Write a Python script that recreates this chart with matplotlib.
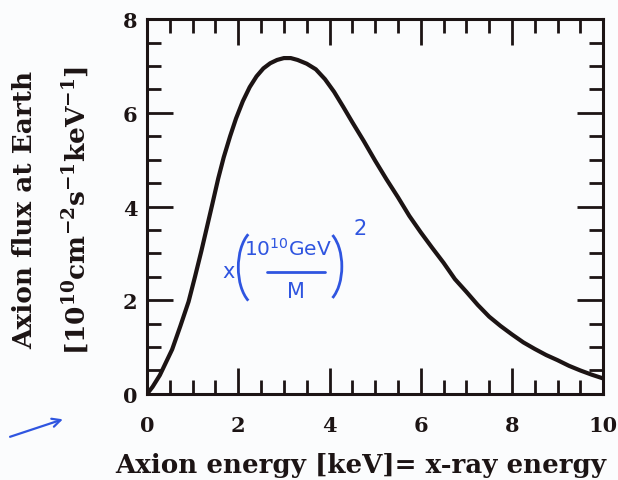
import matplotlib
matplotlib.use("Agg")
import matplotlib.pyplot as plt
from matplotlib.patches import FancyArrowPatch, Arc
from matplotlib.ticker import MultipleLocator

# ---- data --------------------------------------------------------------
energy = [0, 0.12, 0.28, 0.55, 0.73, 0.91, 1.05, 1.19, 1.31, 1.43, 1.56,
          1.68, 1.82, 1.95, 2.1, 2.25, 2.4, 2.55, 2.7, 2.85, 3.0, 3.15,
          3.3, 3.5, 3.7, 3.9, 4.1, 4.3, 4.5, 4.75, 5.0, 5.25, 5.5, 5.75,
          6.0, 6.25, 6.5, 6.75, 7.0, 7.25, 7.5, 7.75, 8.0, 8.25, 8.5,
          8.75, 9.0, 9.25, 9.5, 9.75, 10.0]
flux = [0, 0.15, 0.4, 0.95, 1.45, 1.97, 2.5, 3.05, 3.55, 4.05, 4.6,
        5.05, 5.5, 5.88, 6.25, 6.55, 6.78, 6.95, 7.06, 7.13, 7.17, 7.17,
        7.13, 7.05, 6.93, 6.72, 6.45, 6.13, 5.8, 5.4, 4.98, 4.58, 4.2, 3.8,
        3.45, 3.12, 2.8, 2.45, 2.18, 1.9, 1.65, 1.45, 1.27, 1.1, 0.96,
        0.83, 0.72, 0.6, 0.5, 0.41, 0.33]

xticks = [0, 2, 4, 6, 8, 10]
yticks = [0, 2, 4, 6, 8]

ink = "#1c1414"
blue = "#2f55e0"
serif = "DejaVu Serif"

plt.rcParams["mathtext.fontset"] = "dejavuserif"

fig = plt.figure(figsize=(6.18, 4.81), dpi=100)
fig.patch.set_facecolor("#fbfcfd")
ax = fig.add_axes([0.238, 0.179, 0.738, 0.779])
ax.set_facecolor("#fbfcfd")

ax.plot(energy, flux, color=ink, lw=3.0, solid_capstyle="round",
        solid_joinstyle="round")

ax.set_xlim(0, 10)
ax.set_ylim(0, 8)
ax.set_xticks(xticks)
ax.set_yticks(yticks)
ax.xaxis.set_minor_locator(MultipleLocator(0.5))
ax.yaxis.set_minor_locator(MultipleLocator(0.5))
ax.tick_params(which="both", direction="in", top=True, right=True,
               color=ink, width=2.0)
ax.tick_params(which="major", length=19)
ax.tick_params(which="minor", length=10)
ax.tick_params(axis="x", which="major", pad=15)
ax.tick_params(axis="y", which="major", pad=7)
for lab in ax.get_xticklabels() + ax.get_yticklabels():
    lab.set_fontfamily(serif)
    lab.set_fontweight("bold")
    lab.set_fontsize(15)
    lab.set_color(ink)
for sp in ax.spines.values():
    sp.set_linewidth(2.2)
    sp.set_color(ink)

# axis titles
fig.text(0.583, 0.033, "Axion energy [keV]= x-ray energy", family=serif,
         weight="bold", fontsize=18.8, color=ink, ha="center", va="center")
fig.text(0.040, 0.563, "Axion flux at Earth", family=serif, weight="bold",
         fontsize=19, color=ink, ha="center", va="center", rotation=90)
fig.text(0.123, 0.563,
         r"[10$^{\mathbf{10}}$cm$^{\mathbf{-2}}$s$^{\mathbf{-1}}$keV$^{\mathbf{-1}}$]",
         family=serif, weight="bold", fontsize=19, color=ink,
         ha="center", va="center", rotation=90)

# handwritten note: x (10^10 GeV / M)^2
hand = dict(color=blue, ha="center", va="center", math_fontfamily="dejavusans")
ax.text(1.78, 2.62, "x", fontsize=15, **hand)
ax.add_patch(Arc((2.45, 2.7), 0.9, 1.65, theta1=108, theta2=252,
                 color=blue, lw=2.0))
ax.text(3.08, 3.12, r"$10^{10}$GeV", fontsize=14.5, **hand)
ax.plot([2.63, 3.9], [2.6, 2.6], color=blue, lw=2.0, solid_capstyle="round")
ax.text(3.27, 2.2, "M", fontsize=15, **hand)
ax.add_patch(Arc((3.82, 2.72), 0.9, 1.6, theta1=-70, theta2=70,
                 color=blue, lw=2.0))
ax.text(4.67, 3.55, "2", fontsize=15, **hand)

# blue arrow at lower left
fig.patches.append(FancyArrowPatch(
    (0.012, 0.088), (0.106, 0.128), transform=fig.transFigure,
    arrowstyle="->,head_length=6,head_width=3", color=blue, lw=1.6))

plt.savefig("out.png", dpi=100, facecolor=fig.get_facecolor())
